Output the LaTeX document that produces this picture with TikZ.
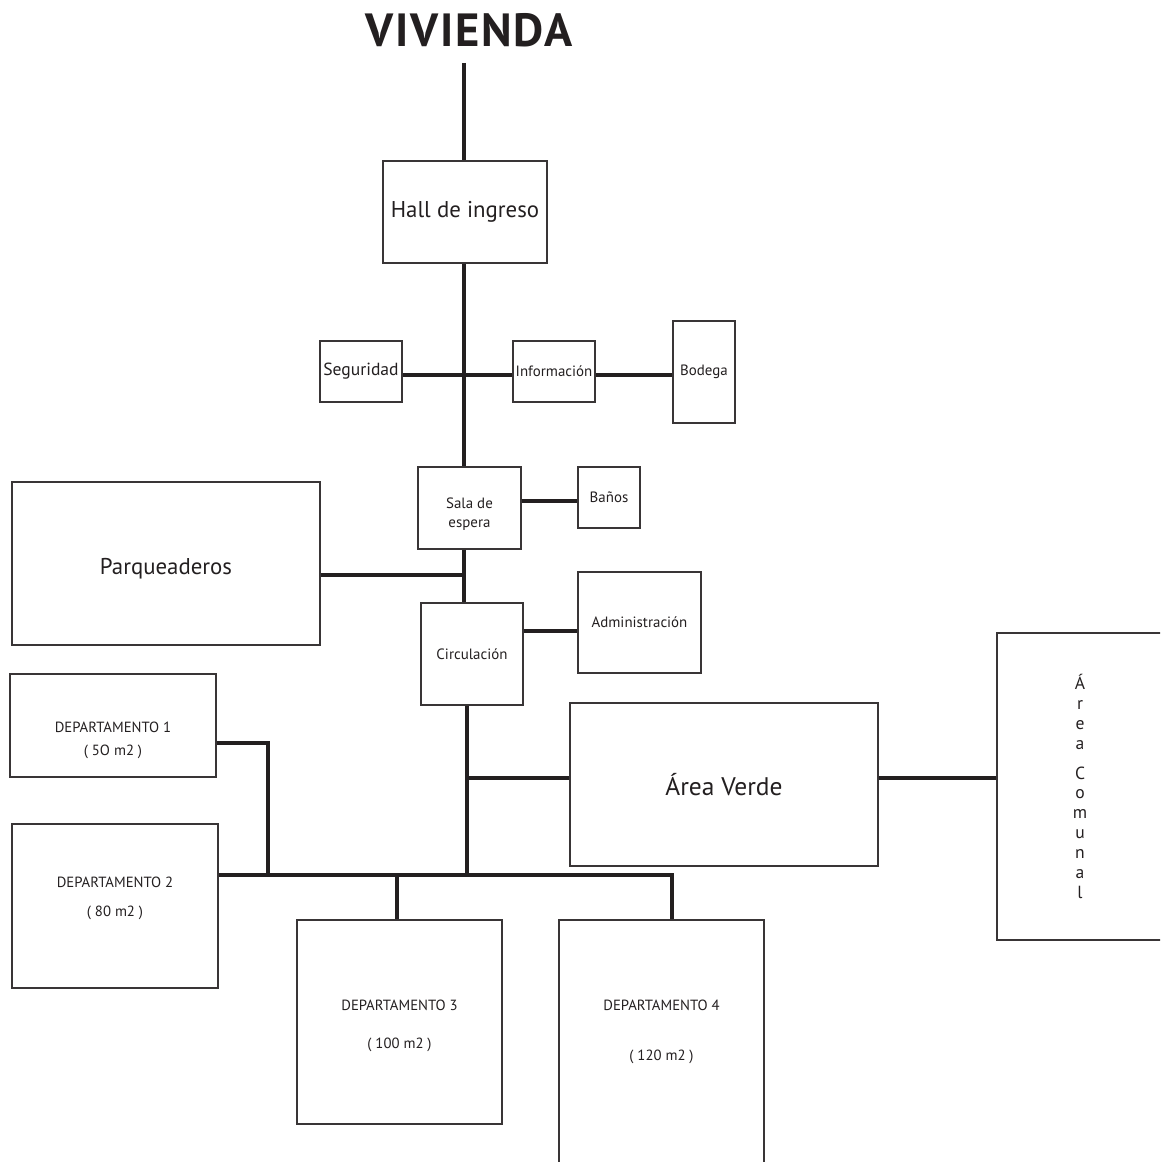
\documentclass[tikz,border=0pt]{standalone}
\usepackage{fontspec}
\setmainfont{PT Sans}
\usetikzlibrary{calc}
\definecolor{ink}{RGB}{35,31,32}

\begin{document}
\begin{tikzpicture}[x=0.02cm, y=-0.02cm,
    room/.style={rectangle, draw=ink!90, line width=0.8pt, inner sep=0pt,
                 align=center, text=ink},
    sz/.style 2 args={minimum width=#1*0.02cm, minimum height=#2*0.02cm},
    link/.style={line width=1.9pt, ink, line join=miter},
    big/.style={font=\fontsize{13}{15}\selectfont},
    mid/.style={font=\fontsize{10}{12}\selectfont},
    sml/.style={font=\fontsize{8.5}{11}\selectfont},
    dep/.style={font=\fontsize{8.4}{10}\selectfont, text=ink}
  ]
  \useasboundingbox (0,0) rectangle (1160,1162);
  \clip (0,0) rectangle (1160,1162);

  % Title
  \node[font=\fontsize{26.5}{30}\selectfont\bfseries\addfontfeature{LetterSpace=4}, text=ink]
        (title) at (469,30) {VIVIENDA};
  \coordinate (top) at (464,63);

  % Entrance axis
  \node[room, sz={164}{102}, big] (hall) at (465,212) {Hall de ingreso};
  \node[room, sz={82}{61}, mid] (seg) at (361,371.5) {Seguridad};
  \node[room, sz={82}{61}, sml] (info) at (554,371.5) {Información};
  \node[room, sz={62}{102}, sml] (bod) at (704,372) {Bodega};
  \node[room, sz={103}{82},
        label={[sml, align=center, text=ink, yshift=-0.12cm]center:Sala de\\espera}] (sala) at (469.5,508) {};
  \node[room, sz={62}{61}, sml] (banos) at (609,497.5) {Baños};
  \node[room, sz={308}{163},
        label={[font=\fontsize{13}{15}\selectfont, text=ink, yshift=-0.1cm]center:Parqueaderos}] (parq) at (166,563.5) {};
  \node[room, sz={102}{102}, sml] (circ) at (472,654) {Circulación};
  \node[room, sz={123}{101}, sml] (admin) at (639.5,622.5) {Administración};

  \draw[link] (top) -- (top |- hall.north);
  \draw[link] (hall.south -| top) -- (sala.north -| top);
  \draw[link] (seg.east |- 0,375) -- (info.west |- 0,375);
  \draw[link] (info.east |- 0,375) -- (bod.west |- 0,375);
  \draw[link] (sala.east |- 0,501) -- (banos.west |- 0,501);
  \coordinate (jp) at (464,575);
  \draw[link] (sala.south -| jp) -- (circ.north -| jp);
  \draw[link] (parq.east |- jp) -- (jp);
  \draw[link] (circ.east |- 0,631) -- (admin.west |- 0,631);

  % Green and common areas
  \node[room, sz={308}{163}, font=\fontsize{14.5}{17}\selectfont] (verde) at (724,784.5) {Área Verde};
  \node[room, sz={166}{307}, font=\fontsize{10}{11.3}\selectfont] (comunal) at (1080,786.5)
        {Á\\r\\e\\a\\[5.5pt]C\\o\\m\\u\\n\\a\\l};
  \coordinate (tr) at (467,875);
  \draw[link] (circ.south -| tr) -- (tr);
  \draw[link] (tr |- 0,778) -- (verde.west |- 0,778);
  \draw[link] (verde.east |- 0,778) -- (comunal.west |- 0,778);

  % Departments
  \foreach \i/\x/\y/\w/\h/\ty/\ay/\area in {1/113/725.5/206/103/727/752/{( 5O m2 )},
                                           2/115/906/206/164/882/913/{( 80 m2 )},
                                           3/399.5/1022/205/204/1005/1045/{( 100 m2 )},
                                           4/661.5/1047.5/205/255/1005/1057/{( 120 m2 )}} {
    \node[room, sz={\w}{\h}] (dep\i) at (\x,\y) {};
    \node[dep] (depname\i) at (\x,\ty) {DEPARTAMENTO \i};
    \node[dep] (deparea\i) at (\x,\ay) {\area};
  }
  \draw[link] (dep2.east |- tr) -- (672,875) coordinate (tr4) -- (tr4 |- dep4.north);
  \draw[link] (dep1.east |- 0,743) -- (268,743) coordinate (tr1) -- (tr1 |- tr);
  \draw[link] (397,875) coordinate (tr3) -- (tr3 |- dep3.north);
\end{tikzpicture}
\end{document}
